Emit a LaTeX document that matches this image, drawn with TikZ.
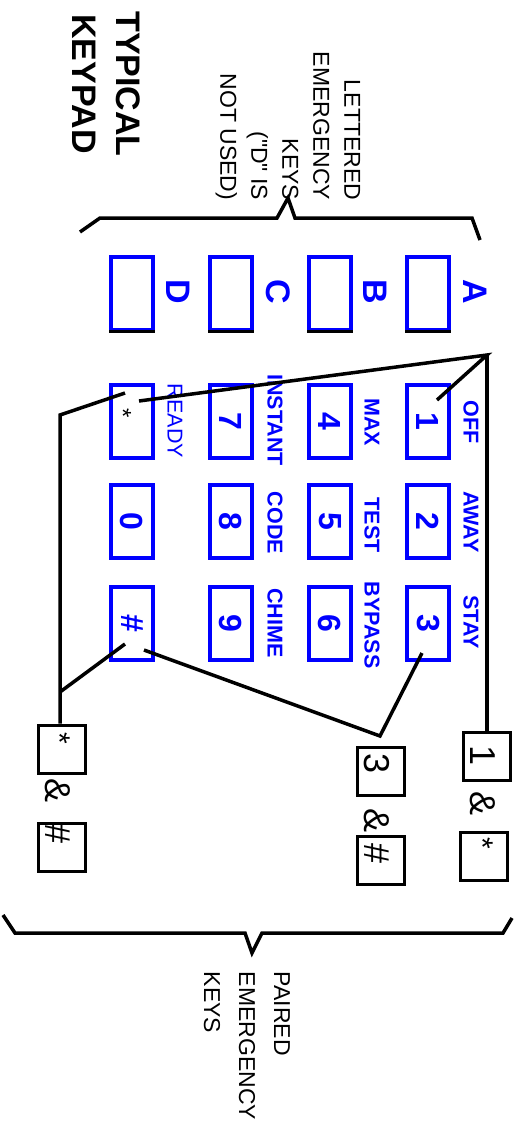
\documentclass[tikz,border=0pt]{standalone}
\usepackage{fontspec}
\setmainfont{Liberation Sans}[Ligatures=TeXOff]
\usetikzlibrary{positioning}
\definecolor{KeyBlue}{RGB}{0,0,255}

\tikzset{
  keybox/.style={draw=KeyBlue,line width=4pt,inner sep=0pt,minimum width=42pt,minimum height=73pt},
  numkey/.style={keybox,rotate=-90,minimum width=73pt,minimum height=42pt,text=KeyBlue,font=\fontsize{32}{36}\selectfont\bfseries},
  keylabel/.style={rotate=-90,text=KeyBlue,inner sep=0pt,font=\fontsize{34}{40}\selectfont\bfseries},
  fnlabel/.style={rotate=-90,text=KeyBlue,inner sep=0pt,font=\fontsize{21.5}{24}\selectfont\bfseries},
  pairbox/.style={draw,line width=3pt,inner sep=0pt,minimum width=47pt,minimum height=48pt},
  pairtext/.style={rotate=-90,inner sep=0pt,font=\fontsize{36}{40}\selectfont},
  pairstar/.style={rotate=-90,inner sep=0pt,font=\fontsize{30}{34}\selectfont},
  note/.style={rotate=-90,font=\fontsize{23}{31}\selectfont}
}

\begin{document}
\begin{tikzpicture}[x=1pt,y=-1pt,line width=3.5pt]
\useasboundingbox (0,0) rectangle (516,1122);

% title and brace notes
\node[rotate=-90,align=center,font=\fontsize{34}{44}\selectfont\bfseries] (title) at (106,84) {TYPICAL\\KEYPAD};
\node[note,align=right] (lettered) at (288,126) {LETTERED\\EMERGENCY\\KEYS\\("D" IS\\NOT USED)};
\node[note,align=left,font=\fontsize{23}{35}\selectfont] (paired) at (247,1046) {PAIRED\\EMERGENCY\\KEYS};
\draw (80,232) -- (100,218) -- (277,218) -- (288,198) -- (295,218) -- (472,218) -- (480,240);
\draw (3,915) -- (15,933) -- (245,933) -- (252,953) -- (262,933) -- (503,933) -- (512,918);

% lettered keys
\node[keybox] (kA) at (428,293) {};
\node[keybox] (kB) at (330,293) {};
\node[keybox] (kC) at (231,293) {};
\node[keybox] (kD) at (132,293) {};
\draw (kA.south west) -- (kA.south east);
\draw (kB.south west) -- (kB.south east);
\draw (kC.south west) -- (kC.south east);
\draw (kD.south west) -- (kD.south east);
\node[keylabel] (lA) at (475,292) {A};
\node[keylabel] (lB) at (375,292) {B};
\node[keylabel] (lC) at (278,292) {C};
\node[keylabel] (lD) at (178,292) {D};

% number keys
\node[numkey] (k1) at (428,421) {1};
\node[numkey] (k2) at (428,521) {2};
\node[numkey] (k3) at (428,623) {3};
\node[numkey] (k4) at (330,421) {4};
\node[numkey] (k5) at (330,521) {5};
\node[numkey] (k6) at (330,623) {6};
\node[numkey] (k7) at (231,421) {7};
\node[numkey] (k8) at (231,521) {8};
\node[numkey] (k9) at (231,623) {9};
\node[numkey] (kstar) at (132,421) {};
\node[numkey] (k0) at (132,521) {0};
\node[numkey] (khash) at (132,623) {\#};
\node[rotate=-90,inner sep=0pt,font=\fontsize{24}{28}\selectfont] (tstar) at (123,413) {*};

% key functions
\node[fnlabel] (fOff) at (471,422) {OFF};
\node[fnlabel] (fAway) at (471,522) {AWAY};
\node[fnlabel] (fStay) at (471,622) {STAY};
\node[fnlabel] (fMax) at (372,422) {MAX};
\node[fnlabel] (fTest) at (372,525) {TEST};
\node[fnlabel] (fBypass) at (372,625) {BYPASS};
\node[fnlabel] (fInstant) at (275,420) {INSTANT};
\node[fnlabel] (fCode) at (275,523) {CODE};
\node[fnlabel] (fChime) at (275,623) {CHIME};
\node[fnlabel,font=\fontsize{21.5}{24}\selectfont] (fReady) at (175,421) {READY};

% paired keys
\node[pairbox] (pone) at (487,756) {};
\node[pairbox] (pstar) at (484,856) {};
\node[pairbox] (pthree) at (381,771) {};
\node[pairbox] (phash) at (381,860) {};
\node[pairbox] (qstar) at (62,749) {};
\node[pairbox] (qhash) at (62,847) {};
\node[pairtext] (tone) at (483,756) {1};
\node[pairtext] (aone) at (483,803) {\&};
\node[pairstar] (tpstar) at (483,843) {*};
\node[pairtext] (tthree) at (377,763) {3};
\node[pairtext] (athree) at (377,820) {\&};
\node[pairtext] (tphash) at (377,853) {\#};
\node[pairstar] (tqstar) at (60,738) {*};
\node[pairtext] (aq) at (58,790) {\&};
\node[pairtext] (tqhash) at (58,833) {\#};

% connectors
\coordinate (apex) at (487,355);
\coordinate (on1) at (437,400);
\coordinate (onstar) at (139,401);
\draw (on1) -- (apex) -- (onstar);
\draw (apex) -- (pone.north);
\coordinate (lstar) at (125,393);
\coordinate (lbend) at (60,415);
\coordinate (lhash) at (125,644);
\coordinate (ljoin) at (60,692);
\draw (lstar) -- (lbend) -- (lbend |- qstar.north);
\draw (lhash) -- (ljoin);
\coordinate (rhash) at (144,650);
\coordinate (rtip) at (380,736);
\coordinate (rthree) at (422,653);
\draw (rhash) -- (rtip) -- (rthree);
\end{tikzpicture}
\end{document}
